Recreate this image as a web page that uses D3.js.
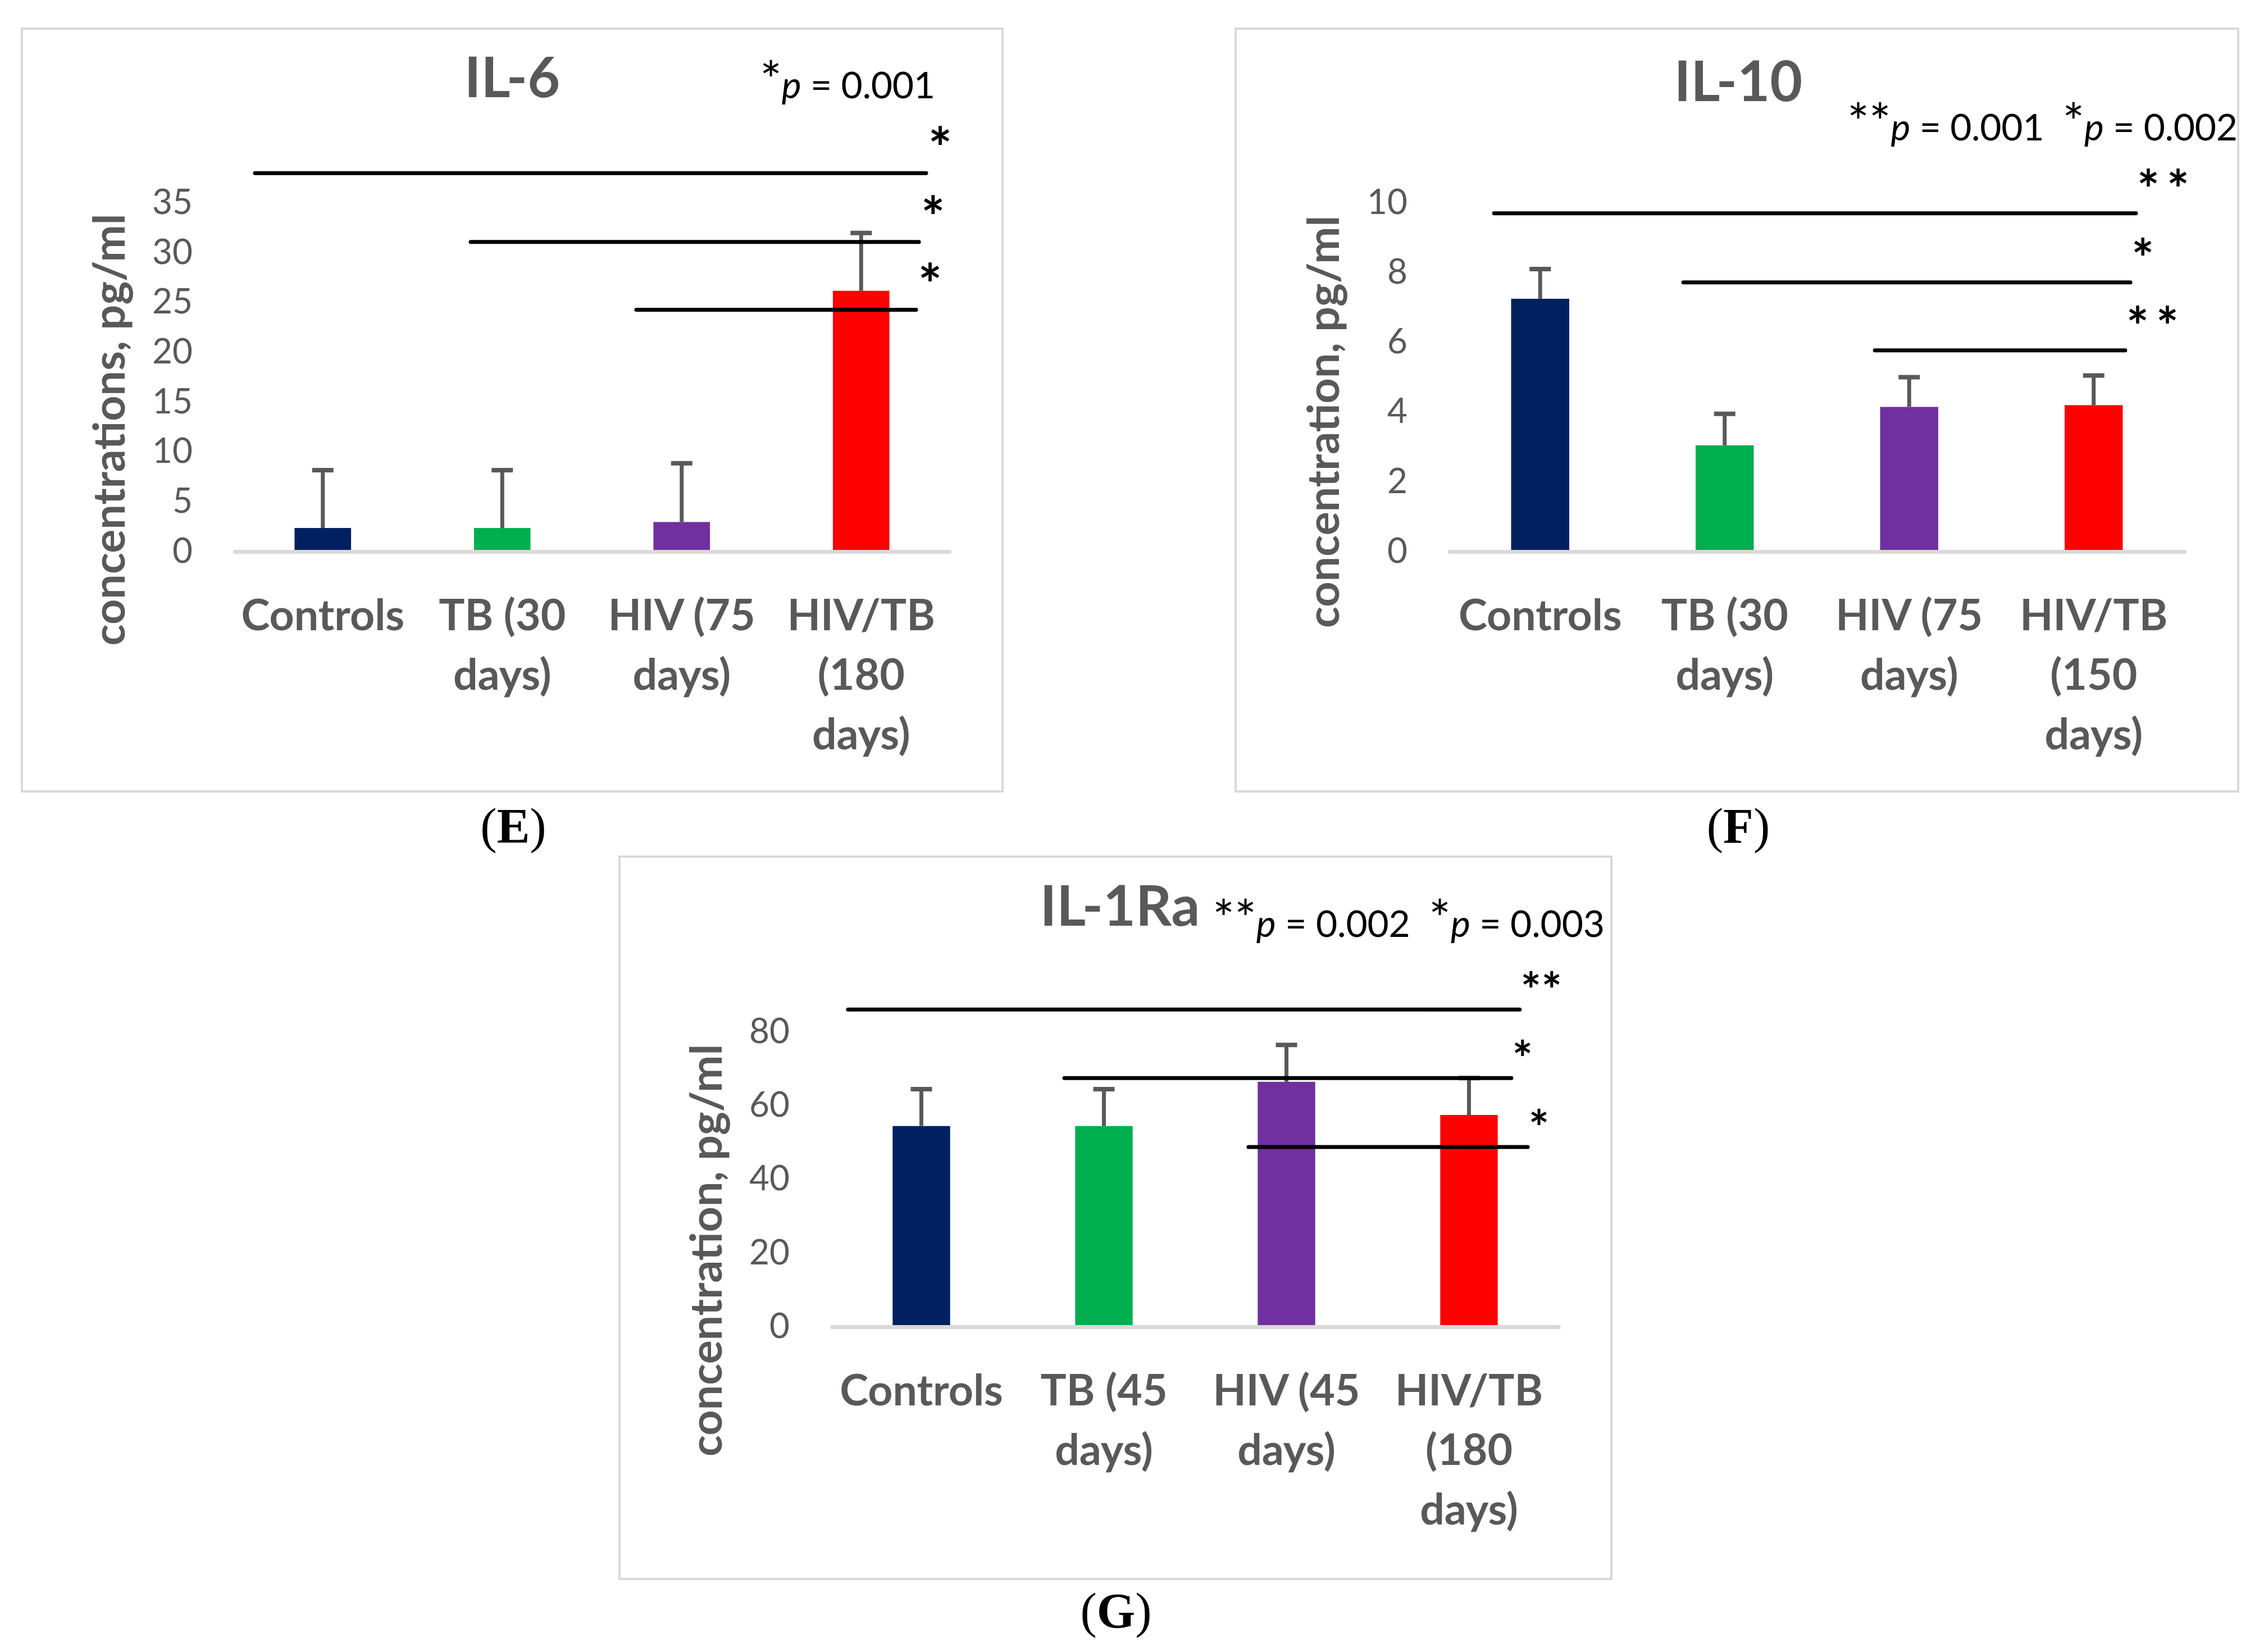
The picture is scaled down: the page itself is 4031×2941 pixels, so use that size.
<!DOCTYPE html>
<html>
<head>
<meta charset="utf-8">
<script src="https://cdn.jsdelivr.net/npm/d3@7"></script>
<style>
  html, body { margin: 0; padding: 0; background: #ffffff; }
  svg { display: block; }
</style>
</head>
<body>
<script>
// ---------------- DATA ----------------
const barColors = ["#002060", "#00B050", "#7030A0", "#FF0000"];

// Panel E : IL-6
const categoriesE = ["Controls", "TB (30 days)", "HIV (75 days)", "HIV/TB (180 days)"];
const meansE = [2.2, 2.2, 2.8, 26.0];
const sdE = [5.8, 5.8, 5.9, 5.8];
const ticksE = [0, 5, 10, 15, 20, 25, 30, 35];
const sigE = [
  { from: 0.122, to: 3.862, level: 37.8, mark: "*" },
  { from: 1.324, to: 3.822, level: 30.9, mark: "*" },
  { from: 2.247, to: 3.806, level: 24.1, mark: "*" }
];

// Panel F : IL-10
const categoriesF = ["Controls", "TB (30 days)", "HIV (75 days)", "HIV/TB (150 days)"];
const meansF = [7.2, 3.0, 4.1, 4.15];
const sdF = [0.85, 0.9, 0.85, 0.85];
const ticksF = [0, 2, 4, 6, 8, 10];
const sigF = [
  { from: 0.25, to: 3.729, level: 9.65, mark: "**" },
  { from: 1.276, to: 3.699, level: 7.67, mark: "*" },
  { from: 2.314, to: 3.671, level: 5.72, mark: "**" }
];

// Panel G : IL-1Ra
const categoriesG = ["Controls", "TB (45 days)", "HIV (45 days)", "HIV/TB (180 days)"];
const meansG = [54, 54, 66, 57];
const sdG = [10, 10, 10, 10];
const ticksG = [0, 20, 40, 60, 80];
const sigG = [
  { from: 0.098, to: 3.778, level: 85.6, mark: "**" },
  { from: 1.283, to: 3.732, level: 67.0, mark: "*" },
  { from: 2.292, to: 3.822, level: 48.3, mark: "*" }
];

// ---------------- DRAWING ----------------
const W = 4031, H = 2941;
const svg = d3.select("body").append("svg")
  .attr("width", W).attr("height", H)
  .attr("viewBox", `0 0 ${W} ${H}`);
svg.append("rect").attr("width", W).attr("height", H).attr("fill", "#ffffff");

const GRAY = "#595959";
const LIGHT = "#d9d9d9";
const SANS = "Lato, 'Open Sans', 'DejaVu Sans', sans-serif";

function drawPanel(p) {
  const g = svg.append("g");

  // frame
  g.append("rect")
    .attr("x", p.box[0]).attr("y", p.box[1])
    .attr("width", p.box[2] - p.box[0]).attr("height", p.box[3] - p.box[1])
    .attr("fill", "none").attr("stroke", LIGHT).attr("stroke-width", 4);

  const x = d3.scaleBand().domain(p.categories)
    .range([p.x0, p.x1]).paddingInner(0.685).paddingOuter(0.3425);
  const y = d3.scaleLinear().domain([0, p.yMax]).range([p.y0, p.yTop]);
  const step = x.step();
  const bx = u => p.x0 + u * step;

  // y axis (labels only)
  const ay = g.append("g")
    .attr("transform", `translate(${p.x0 - 72},0)`)
    .call(d3.axisLeft(y).tickValues(p.ticks).tickSize(0).tickPadding(0).tickFormat(d3.format("d")));
  ay.select(".domain").remove();
  ay.attr("font-family", SANS).attr("font-size", 62);
  ay.selectAll("text").attr("fill", GRAY).attr("dy", "0.36em");

  // bars
  const rows = p.categories.map((c, i) => ({ c, m: p.means[i], sd: p.sd[i], col: barColors[i] }));
  g.selectAll("rect.bar").data(rows).join("rect").attr("class", "bar")
    .attr("x", d => x(d.c)).attr("width", x.bandwidth())
    .attr("y", d => y(d.m)).attr("height", d => y(0) - y(d.m))
    .attr("fill", d => d.col);

  // error bars
  const eb = g.selectAll("g.err").data(rows).join("g").attr("class", "err");
  eb.append("line")
    .attr("x1", d => x(d.c) + x.bandwidth() / 2).attr("x2", d => x(d.c) + x.bandwidth() / 2)
    .attr("y1", d => y(d.m)).attr("y2", d => y(d.m + d.sd))
    .attr("stroke", GRAY).attr("stroke-width", 7);
  eb.append("line")
    .attr("x1", d => x(d.c) + x.bandwidth() / 2 - 19).attr("x2", d => x(d.c) + x.bandwidth() / 2 + 19)
    .attr("y1", d => y(d.m + d.sd)).attr("y2", d => y(d.m + d.sd))
    .attr("stroke", GRAY).attr("stroke-width", 8);

  // x axis
  const ax = g.append("g")
    .attr("transform", `translate(0,${p.y0 + 3})`)
    .call(d3.axisBottom(x).tickSize(0).tickSizeOuter(0));
  ax.select(".domain").attr("stroke", LIGHT).attr("stroke-width", 7);
  ax.attr("font-family", SANS).attr("font-size", 77).attr("font-weight", "bold");
  ax.selectAll(".tick text").each(function (d) {
    const t = d3.select(this);
    t.text(null).attr("fill", GRAY).attr("y", 140).attr("dy", null);
    const words = d.split(" ");
    let lines = [];
    let cur = "";
    const probe = t.append("tspan");
    words.forEach(w => {
      const tryS = cur ? cur + " " + w : w;
      probe.text(tryS);
      if (probe.node().getComputedTextLength() > step - 10 && cur) {
        lines.push(cur);
        cur = w;
      } else cur = tryS;
    });
    lines.push(cur);
    probe.remove();
    lines.forEach((ln, i) => {
      t.append("tspan").attr("x", 0).attr("dy", i === 0 ? 0 : 106).text(ln);
    });
  });

  // title
  g.append("text").attr("x", p.titleX).attr("y", p.titleY)
    .attr("text-anchor", "middle").attr("font-family", SANS)
    .attr("font-weight", "bold").attr("font-size", 100).attr("fill", GRAY)
    .text(p.title);

  // y axis title
  g.append("text")
    .attr("transform", `translate(${p.yTitleX},${p.yTitleY}) rotate(-90)`)
    .attr("text-anchor", "middle").attr("font-family", SANS)
    .attr("font-weight", "bold").attr("font-size", 79).attr("fill", GRAY)
    .text(p.yTitle);

  // p-value text
  const pt = g.append("text").attr("x", p.pX0).attr("y", p.pY)
    .attr("font-family", SANS).attr("font-size", 66).attr("fill", "#000")
    .style("white-space", "pre")
    .attr("textLength", p.pX1 - p.pX0).attr("lengthAdjust", "spacing");
  p.pParts.forEach(part => {
    const ts = pt.append("tspan").attr("font-style", part.it ? "italic" : "normal").text(part.s);
    if (part.star) ts.attr("font-size", 92);
  });

  // significance lines
  g.selectAll("line.sig").data(p.sig).join("line").attr("class", "sig")
    .attr("x1", d => bx(d.from)).attr("x2", d => bx(d.to))
    .attr("y1", d => y(d.level)).attr("y2", d => y(d.level))
    .attr("stroke", "#000").attr("stroke-width", 7).attr("stroke-linecap", "round");
  p.sig.forEach(d => {
    const n = d.mark.length;
    for (let k = 0; k < n; k++) {
      g.append("text")
        .attr("x", bx(d.to) + p.starDx + k * p.starGap)
        .attr("y", y(d.level) - p.starRise + 0.57 * p.starSize)
        .attr("text-anchor", "middle").attr("font-family", SANS)
        .attr("font-weight", "bold")
        .attr("font-size", p.starSize).attr("fill", "#000").text("*");
    }
  });

  // panel letter
  const lt = g.append("text").attr("x", p.letterX).attr("y", p.letterY)
    .attr("text-anchor", "middle").attr("font-family", "'Liberation Serif', 'Times New Roman', serif")
    .attr("font-size", 88).attr("fill", "#000");
  lt.append("tspan").text("(");
  lt.append("tspan").attr("font-weight", "bold").text(p.letter);
  lt.append("tspan").text(")");
}

drawPanel({
  box: [39, 51, 1785, 1409],
  categories: categoriesE, means: meansE, sd: sdE, ticks: ticksE, sig: sigE,
  x0: 415, x1: 1693, y0: 979, yTop: 358, yMax: 35,
  title: "IL-6", titleX: 912, titleY: 173,
  yTitle: "concentrations, pg/ml", yTitleX: 222, yTitleY: 765,
  pX0: 1353, pX1: 1665, pY: 175,
  pParts: [{ s: "*", star: true }, { s: "p", it: true }, { s: " = 0.001" }],
  starSize: 100, starDx: 25, starGap: 40, starRise: 65,
  letter: "E", letterX: 914, letterY: 1500
});

drawPanel({
  box: [2200, 51, 3985, 1409],
  categories: categoriesF, means: meansF, sd: sdF, ticks: ticksF, sig: sigF,
  x0: 2578, x1: 3892, y0: 979, yTop: 358, yMax: 10,
  title: "IL-10", titleX: 3095, titleY: 180,
  yTitle: "concentration, pg/ml", yTitleX: 2384, yTitleY: 751,
  pX0: 3289, pX1: 3984, pY: 250,
  pParts: [{ s: "**", star: true }, { s: "p", it: true }, { s: " = 0.001  " }, { s: "*", star: true }, { s: "p", it: true }, { s: " = 0.002" }],
  starSize: 94, starDx: 22, starGap: 53, starRise: 62,
  letter: "F", letterX: 3095, letterY: 1500
});

drawPanel({
  box: [1103, 1525, 2869, 2811],
  categories: categoriesG, means: meansG, sd: sdG, ticks: ticksG, sig: sigG,
  x0: 1478, x1: 2778, y0: 2359, yTop: 1834, yMax: 80,
  title: "IL-1Ra", titleX: 1994, titleY: 1648,
  yTitle: "concentration, pg/ml", yTitleX: 1285, yTitleY: 2226,
  pX0: 2159, pX1: 2857, pY: 1668,
  pParts: [{ s: "**", star: true }, { s: "p", it: true }, { s: " = 0.002  " }, { s: "*", star: true }, { s: "p", it: true }, { s: " = 0.003" }],
  starSize: 86, starDx: 20, starGap: 37, starRise: 52,
  letter: "G", letterX: 1987, letterY: 2897
});
</script>
</body>
</html>
